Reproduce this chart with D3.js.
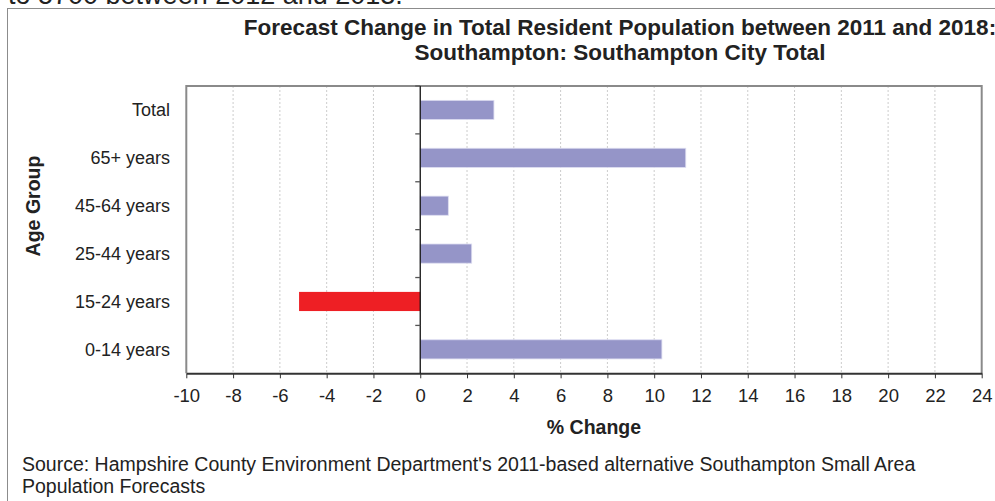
<!DOCTYPE html>
<html>
<head>
<meta charset="utf-8">
<script src="https://cdn.jsdelivr.net/npm/d3@7"></script>
<style>
  html, body { margin: 0; padding: 0; background: #fff; overflow: hidden; }
  svg { display: block; font-family: "Liberation Sans", Arial, sans-serif; }
</style>
</head>
<body>
<svg id="chart" width="995" height="501"></svg>
<script>
// Age groups, listed top to bottom
const ageGroups = ["Total", "65+ years", "45-64 years", "25-44 years", "15-24 years", "0-14 years"];
// Forecast % change 2011-2018 per age group
const pctChange = [3.15, 11.35, 1.2, 2.2, -5.18, 10.33];
// X axis ticks
const xTicks = [-10, -8, -6, -4, -2, 0, 2, 4, 6, 8, 10, 12, 14, 16, 18, 20, 22, 24];

const titleLines = [
  "Forecast Change in Total Resident Population between 2011 and 2018:",
  "Southampton: Southampton City Total"
];
const sourceLines = [
  "Source: Hampshire County Environment Department's 2011-based alternative Southampton Small Area",
  "Population Forecasts"
];

const svg = d3.select("#chart");
const plot = { left: 186.3, right: 981.7, top: 86, bottom: 373.3 };

// Text from the page above the chart frame
svg.append("text")
  .attr("x", 8).attr("y", 4)
  .attr("font-size", 27).attr("fill", "#222")
  .text("to 5700 between 2012 and 2013.");

// Outer chart frame (extends past the right edge)
svg.append("rect")
  .attr("x", 7.5).attr("y", 8.5)
  .attr("width", 1100).attr("height", 600)
  .attr("fill", "#fff").attr("stroke", "#8c8c8c").attr("stroke-width", 1);

const x = d3.scaleLinear().domain([-10, 24]).range([plot.left, plot.right]);
const y = d3.scaleBand().domain(ageGroups).range([plot.top, plot.bottom]).paddingInner(0.6).paddingOuter(0.3);
const yb = d3.scaleBand().domain(ageGroups).range([plot.top, plot.bottom]);

// Vertical gridlines
svg.append("g").selectAll("line")
  .data(xTicks.filter(t => t !== 0 && t !== -10 && t !== 24))
  .join("line")
  .attr("x1", d => x(d)).attr("x2", d => x(d))
  .attr("y1", plot.top).attr("y2", plot.bottom)
  .attr("stroke", "#cccccc").attr("stroke-width", 1)
  .attr("stroke-dasharray", "2,2");

// Bars
svg.append("g").selectAll("rect")
  .data(ageGroups.map((g, i) => ({ g, v: pctChange[i] })))
  .join("rect")
  .attr("x", d => x(Math.min(0, d.v)))
  .attr("width", d => Math.abs(x(d.v) - x(0)))
  .attr("y", d => y(d.g))
  .attr("height", y.bandwidth())
  .attr("fill", d => d.v < 0 ? "#ee1f24" : "#9595c8")
  .attr("stroke", d => d.v < 0 ? "none" : "#dcdcf0")
  .attr("stroke-width", 0.8);

// Plot frame: top, left, right
svg.append("path")
  .attr("d", `M${plot.left},${plot.bottom} V${plot.top} H${plot.right} V${plot.bottom}`)
  .attr("fill", "none").attr("stroke", "#8a8a8a").attr("stroke-width", 2);

// Bottom axis
const xAxis = svg.append("g")
  .attr("transform", `translate(0,${plot.bottom})`)
  .call(d3.axisBottom(x).tickValues(xTicks).tickFormat(d => String(d))
    .tickSize(5).tickSizeOuter(0).tickPadding(11));
xAxis.select(".domain").attr("stroke", "#333").attr("stroke-width", 2);
xAxis.selectAll(".tick line").attr("stroke", "#333");
xAxis.selectAll(".tick text")
  .attr("font-size", 18.5).attr("fill", "#222")
  .attr("font-family", "Liberation Sans, Arial, sans-serif");

// Zero line with category ticks
const yAxis = svg.append("g")
  .attr("transform", `translate(${x(0)},0)`);
yAxis.append("line")
  .attr("x1", 0).attr("x2", 0)
  .attr("y1", plot.top).attr("y2", plot.bottom)
  .attr("stroke", "#111").attr("stroke-width", 1.3);
yAxis.selectAll("line.tk")
  .data(ageGroups.slice(1))
  .join("line").attr("class", "tk")
  .attr("x1", -5).attr("x2", 0)
  .attr("y1", d => yb(d)).attr("y2", d => yb(d))
  .attr("stroke", "#555").attr("stroke-width", 1.3);
yAxis.append("line")
  .attr("x1", -5).attr("x2", 0)
  .attr("y1", plot.top).attr("y2", plot.top)
  .attr("stroke", "#555").attr("stroke-width", 1.3);

// Category labels
svg.append("g").selectAll("text")
  .data(ageGroups)
  .join("text")
  .attr("x", 170)
  .attr("y", d => yb(d) + yb.bandwidth() / 2)
  .attr("dy", "0.35em")
  .attr("text-anchor", "end")
  .attr("font-size", 18).attr("fill", "#222")
  .text(d => d);

// Axis titles
svg.append("text")
  .attr("x", 594).attr("y", 434)
  .attr("text-anchor", "middle")
  .attr("font-size", 19.5).attr("font-weight", "bold").attr("fill", "#222")
  .text("% Change");

svg.append("text")
  .attr("transform", `translate(40,206) rotate(-90)`)
  .attr("text-anchor", "middle")
  .attr("font-size", 19.5).attr("font-weight", "bold").attr("fill", "#222")
  .text("Age Group");

// Title
svg.append("g").selectAll("text")
  .data(titleLines)
  .join("text")
  .attr("x", 620)
  .attr("y", (d, i) => 35 + i * 25)
  .attr("text-anchor", "middle")
  .attr("font-size", 22.5).attr("font-weight", "bold").attr("fill", "#222")
  .text(d => d);

// Source note
svg.append("g").selectAll("text")
  .data(sourceLines)
  .join("text")
  .attr("x", 22)
  .attr("y", (d, i) => 471 + i * 22)
  .attr("font-size", 19.5).attr("fill", "#222")
  .text(d => d);
</script>
</body>
</html>
